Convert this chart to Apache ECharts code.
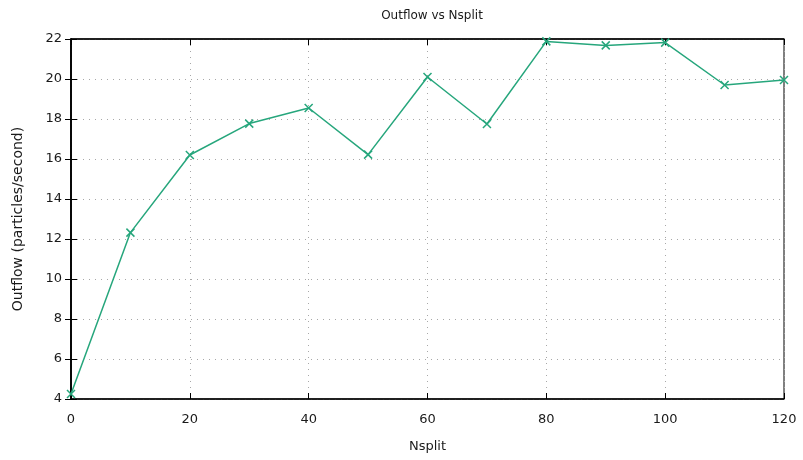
<!DOCTYPE html>
<html>
<head>
<meta charset="utf-8">
<script src="https://cdn.jsdelivr.net/npm/echarts@6/dist/echarts.min.js"></script>
<style>html,body{margin:0;padding:0;background:#fff}#c{width:803px;height:460px}</style>
</head>
<body>
<div id="c"></div>
<script>
const nsplit = [0, 10, 20, 30, 40, 50, 60, 70, 80, 90, 100, 110, 120];
const outflow = [4.25, 12.32, 16.2, 17.77, 18.55, 16.22, 20.1, 17.75, 21.88, 21.68, 21.82, 19.7, 19.95];
const titleText = 'Outflow vs Nsplit';
const xName = 'Nsplit';
const yName = 'Outflow (particles/second)';

const font = '"DejaVu Sans", sans-serif';
const txt = '#1a1a1a';
const lineColor = '#26a67c';
const chart = echarts.init(document.getElementById('c'), null, {renderer: 'canvas'});
const gridLine = {show: true, lineStyle: {color: '#a8a8a8', type: [1, 5], width: 1}};
chart.setOption({
  animation: false,
  backgroundColor: '#fff',
  textStyle: {fontFamily: font},
  title: {text: titleText, left: 427, top: 5, textAlign: 'center',
    textStyle: {fontFamily: font, fontSize: 12, fontWeight: 'normal', color: txt}},
  grid: {left: 71, right: 19, top: 39, bottom: 61, show: true, borderColor: '#000', borderWidth: 1},
  xAxis: [{
    type: 'value', min: 0, max: 120, interval: 20,
    name: xName, nameLocation: 'middle', nameGap: 41,
    nameTextStyle: {fontFamily: font, fontSize: 13, color: txt},
    axisLine: {show: true, lineStyle: {color: '#000', width: 1.5}},
    axisTick: {show: true, inside: true, length: 6, lineStyle: {color: '#000'}},
    axisLabel: {fontFamily: font, fontSize: 13, color: txt, margin: 14},
    splitLine: gridLine
  }, {
    type: 'value', min: 0, max: 120, interval: 20, position: 'top',
    axisLine: {show: true, lineStyle: {color: '#000', width: 1.5}},
    axisTick: {show: true, inside: true, length: 6, lineStyle: {color: '#000'}},
    axisLabel: {show: false}, splitLine: {show: false}
  }],
  yAxis: [{
    type: 'value', min: 4, max: 22, interval: 2,
    name: yName, nameLocation: 'middle', nameGap: 46,
    nameTextStyle: {fontFamily: font, fontSize: 14, color: txt},
    axisLine: {show: true, lineStyle: {color: '#000', width: 1.5}},
    axisTick: {show: true, inside: true, length: 6, lineStyle: {color: '#000'}},
    axisLabel: {fontFamily: font, fontSize: 13, color: txt, margin: 9},
    splitLine: gridLine
  }, {
    type: 'value', min: 4, max: 22, interval: 2, position: 'right',
    axisLine: {show: true, lineStyle: {color: '#000', width: 1.5}},
    axisTick: {show: true, inside: true, length: 6, lineStyle: {color: '#000'}},
    axisLabel: {show: false}, splitLine: {show: false}
  }],
  series: [{
    type: 'line',
    data: nsplit.map((x, i) => [x, outflow[i]]),
    symbol: 'path://M0,0L10,10M10,0L0,10',
    symbolSize: 8,
    showAllSymbol: true,
    clip: false,
    lineStyle: {color: lineColor, width: 1.5},
    itemStyle: {color: 'rgba(0,0,0,0)', borderColor: lineColor, borderWidth: 1.5}
  }]
});
</script>
</body>
</html>
